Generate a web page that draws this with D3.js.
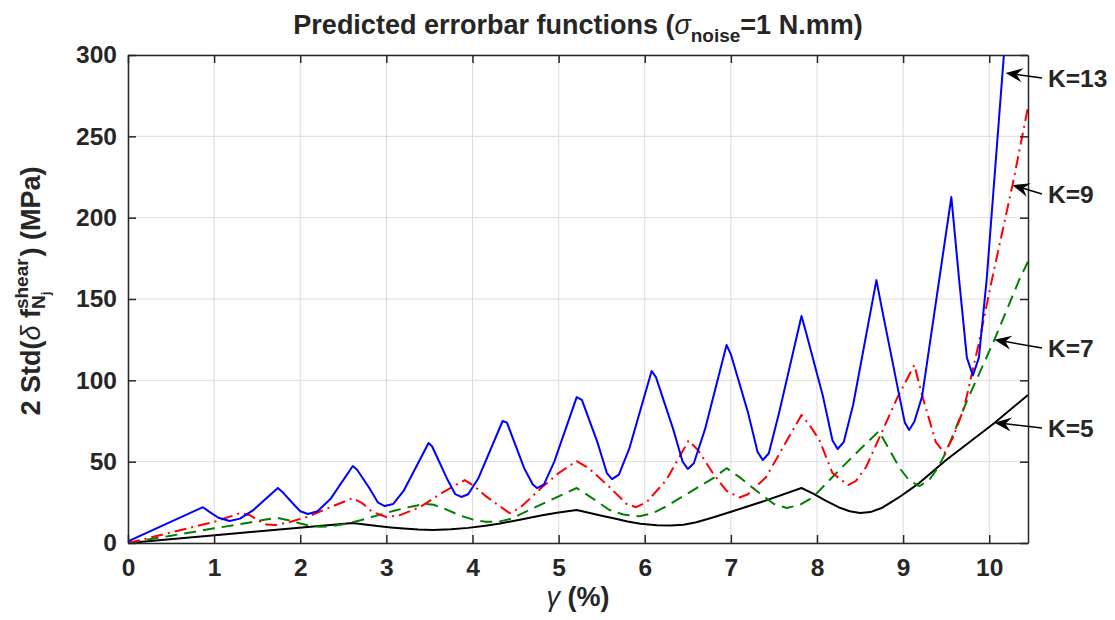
<!DOCTYPE html>
<html>
<head>
<meta charset="utf-8">
<script src="https://cdn.jsdelivr.net/npm/d3@7"></script>
<style>
body { margin: 0; background: #fff; }
text { font-family: "Liberation Sans", Arial, sans-serif; font-weight: bold; fill: #262626; }
</style>
</head>
<body>
<div id="chart-area"></div>
<script>
// values: shear strain (%) and 2*std of the error (MPa)
var gammaK13 = [0, 0.87, 0.95, 1.05, 1.18, 1.3, 1.45, 1.74, 1.80, 1.92, 2.0, 2.09, 2.2, 2.35, 2.61, 2.66, 2.8, 2.9, 2.98, 3.08, 3.2, 3.49, 3.53, 3.7, 3.8, 3.87, 3.95, 4.07, 4.35, 4.40, 4.6, 4.70, 4.75, 4.83, 4.95, 5.21, 5.27, 5.45, 5.56, 5.62, 5.70, 5.82, 6.08, 6.13, 6.33, 6.44, 6.50, 6.57, 6.7, 6.95, 7.0, 7.2, 7.31, 7.37, 7.44, 7.56, 7.82, 7.87, 8.07, 8.18, 8.24, 8.31, 8.42, 8.69, 8.75, 8.95, 9.02, 9.07, 9.13, 9.22, 9.56, 9.65, 9.74, 9.81, 9.88, 9.97, 10.17, 10.3]
var errK13 = [1, 22, 19, 15.5, 13.5, 15, 20, 33.8, 31, 24, 19.5, 17.8, 19.5, 27, 47.3, 45, 34, 25, 22.7, 24, 32, 61.5, 59.5, 40, 30, 28.3, 30, 40, 75, 74, 46, 36, 33.8, 36, 50, 89.7, 88, 62, 43, 39.3, 42, 58, 105.7, 102, 70, 50, 45.5, 49, 70, 121.7, 116, 80, 56, 51, 55, 80, 139.5, 130, 90, 63, 57.8, 62, 85, 161.6, 145, 92, 74, 69.5, 74.5, 90, 212.7, 162, 114, 103, 114, 162, 300, 380]

var gammaK9 = [0, 0.5, 1.0, 1.2, 1.30, 1.42, 1.52, 1.61, 1.71, 1.85, 2.08, 2.35, 2.61, 2.72, 2.84, 3.0, 3.15, 3.39, 3.65, 3.91, 4.02, 4.15, 4.28, 4.43, 4.55, 4.81, 5.0, 5.21, 5.35, 5.59, 5.79, 5.9, 6.02, 6.25, 6.51, 6.62, 6.79, 6.95, 7.1, 7.2, 7.41, 7.82, 7.92, 8.03, 8.18, 8.36, 8.45, 8.57, 8.93, 9.13, 9.22, 9.38, 9.48, 9.58, 9.71, 9.88, 10.03, 10.27, 10.45]
var errK9 = [0, 6.5, 13, 16.5, 18.4, 17, 13.5, 11.3, 11, 12.5, 16, 22, 27.6, 24.5, 19, 16, 17, 22, 31, 38.7, 35, 29, 24, 18.4, 21.5, 34.4, 43, 50.4, 46, 34.4, 24, 22, 25, 38.7, 63, 57, 43, 32, 28, 30, 40.6, 78.7, 72, 63, 43, 35.6, 38, 46.7, 89, 109.4, 91, 62, 55.3, 65, 83.6, 123, 161.6, 220, 268]

var gammaK7 = [0, 0.5, 1.0, 1.4, 1.6, 1.73, 1.85, 2.0, 2.12, 2.23, 2.35, 2.5, 2.7, 2.9, 3.1, 3.3, 3.45, 3.55, 3.7, 3.85, 4.0, 4.15, 4.3, 4.45, 4.66, 5.21, 5.35, 5.59, 5.75, 5.94, 6.1, 6.25, 6.5, 6.8, 6.95, 7.1, 7.33, 7.5, 7.65, 7.8, 7.95, 8.18, 8.45, 8.72, 8.96, 9.07, 9.19, 9.3, 9.4, 9.5, 9.73, 10.06, 10.35, 10.45]
var errK7 = [0, 4.5, 9, 12.5, 14.5, 15.5, 14.2, 12, 10.5, 10, 10.3, 11.5, 14, 17, 20, 22.5, 24, 23.5, 20.5, 17, 14.5, 13, 13, 15, 20.3, 33.8, 29, 20.3, 17.5, 16.4, 18.5, 22.5, 30.5, 40, 46, 40.5, 30.7, 24, 21.5, 23.5, 28, 40.6, 55, 68.8, 46, 38.5, 35, 38.5, 46, 56, 86, 125, 162, 173]

var gammaK5 = [0, 1.3, 2.61, 2.75, 2.9, 3.05, 3.2, 3.37, 3.54, 3.75, 3.95, 4.15, 4.32, 4.55, 4.81, 5.0, 5.21, 5.35, 5.5, 5.65, 5.8, 5.95, 6.14, 6.3, 6.45, 6.6, 6.8, 7.02, 7.41, 7.82, 7.95, 8.1, 8.25, 8.38, 8.5, 8.62, 8.75, 8.95, 9.19, 9.5, 10.06, 10.45]
var errK5 = [0, 6.2, 12.3, 11.4, 10.4, 9.6, 8.9, 8.3, 8.0, 8.4, 9.3, 10.6, 12.0, 14.3, 17.0, 18.8, 20.3, 18.6, 16.8, 15.0, 13.2, 11.8, 10.9, 10.7, 11.2, 12.8, 15.8, 19.5, 26.2, 33.8, 30.5, 26, 22, 19.5, 18.5, 19, 21.5, 28, 37, 51, 73.8, 91]

// annotation arrows: label, arrow tip (gamma, MPa), label level (MPa)
var annLabels = ['K=13', 'K=9', 'K=7', 'K=5']
var annTipGamma = [10.19, 10.27, 10.06, 10.06]
var annTipVal = [289, 220, 125, 74]
var annLabelVal = [285.8, 214.5, 119.9, 70.7]

var xTicks = [0, 1, 2, 3, 4, 5, 6, 7, 8, 9, 10]
var yTicks = [0, 50, 100, 150, 200, 250, 300]

//SVG with margins
var W = 1115, H = 620
var margin = {left: 128, right: 87, top: 55, bottom: 77}
var width = W - margin.left - margin.right
var height = H - margin.top - margin.bottom

var svg = d3.select('#chart-area').append('svg')
	.attr('width', W)
	.attr('height', H)

var group = svg.append('g')
	.attr('transform', 'translate(' + margin.left + ',' + margin.top + ')')

var xScale = d3.scaleLinear().domain([0, 10.45]).range([0, width])
var yScale = d3.scaleLinear().domain([0, 300]).range([height, 0])

// grid
group.append('g').selectAll('line').data(xTicks).enter().append('line')
	.attr('x1', d => xScale(d)).attr('x2', d => xScale(d))
	.attr('y1', 0).attr('y2', height)
	.attr('stroke', '#dcdcdc').attr('stroke-width', 1)
group.append('g').selectAll('line').data(yTicks).enter().append('line')
	.attr('x1', 0).attr('x2', width)
	.attr('y1', d => yScale(d)).attr('y2', d => yScale(d))
	.attr('stroke', '#dcdcdc').attr('stroke-width', 1)

// curves, clipped to the axes box
group.append('clipPath').attr('id', 'clip')
	.append('rect').attr('width', width).attr('height', height)

var series = [
	{g: gammaK5, v: errK5, color: '#000000', dash: null},
	{g: gammaK7, v: errK7, color: '#008000', dash: '12,7'},
	{g: gammaK9, v: errK9, color: '#ff0000', dash: '12,5,2,5'},
	{g: gammaK13, v: errK13, color: '#0000ff', dash: null}
]

var line = d3.line()
	.x(d => xScale(d[0]))
	.y(d => yScale(d[1]))

group.append('g').attr('clip-path', 'url(#clip)')
	.selectAll('path').data(series).enter().append('path')
	.attr('d', d => line(d3.zip(d.g, d.v)))
	.attr('fill', 'none')
	.attr('stroke', d => d.color)
	.attr('stroke-width', 2)
	.attr('stroke-dasharray', d => d.dash)
	.attr('stroke-linejoin', 'round')

// axes (box with inward ticks)
var xAxis = d3.axisBottom(xScale).tickValues(xTicks).tickSizeInner(-8).tickSizeOuter(0).tickPadding(15.5)
var yAxis = d3.axisLeft(yScale).tickValues(yTicks).tickSizeInner(-8).tickSizeOuter(0).tickPadding(11)
var xTop = d3.axisTop(xScale).tickValues(xTicks).tickSizeInner(-8).tickSizeOuter(0).tickFormat('')
var yRight = d3.axisRight(yScale).tickValues(yTicks).tickSizeInner(-8).tickSizeOuter(0).tickFormat('')

var axes = [
	group.append('g').attr('transform', 'translate(0,' + height + ')').call(xAxis),
	group.append('g').call(yAxis),
	group.append('g').call(xTop),
	group.append('g').attr('transform', 'translate(' + width + ',0)').call(yRight)
]
axes.forEach(function(a){
	a.select('.domain').attr('stroke', '#262626').attr('stroke-width', 1.5)
	a.selectAll('.tick line').attr('stroke', '#262626').attr('stroke-width', 1.5)
	a.selectAll('.tick text').attr('font-size', '24.5px').attr('fill', '#262626')
		.attr('font-family', '"Liberation Sans", Arial, sans-serif').attr('font-weight', 'bold')
})

// title
var title = svg.append('text')
	.attr('x', margin.left + width / 2)
	.attr('y', 34)
	.attr('text-anchor', 'middle')
	.attr('font-size', '27px')
title.append('tspan').text('Predicted errorbar functions (')
title.append('tspan').attr('font-style', 'italic').attr('font-weight', 'normal').text('σ')
title.append('tspan').attr('font-size', '19px').attr('dy', 8).text('noise')
title.append('tspan').attr('dy', -8).text('=1 N.mm)')

// x label
var xlab = svg.append('text')
	.attr('x', margin.left + width / 2)
	.attr('y', 606)
	.attr('text-anchor', 'middle')
	.attr('font-size', '27px')
xlab.append('tspan').attr('font-style', 'italic').attr('font-weight', 'normal').text('γ')
xlab.append('tspan').text(' (%)')

// y label with stacked super/subscripts
var ylab = svg.append('text')
	.attr('transform', 'translate(40,' + (margin.top + height / 2 - 8) + ') rotate(-90)')
	.attr('text-anchor', 'middle')
	.attr('font-size', '27px')
ylab.append('tspan').text('2 Std(')
ylab.append('tspan').attr('font-style', 'italic').attr('font-weight', 'normal').text('δ')
ylab.append('tspan').text(' f')
var sup = ylab.append('tspan').attr('font-size', '19px').attr('dy', -12).text('shear')
var subN = ylab.append('tspan').attr('font-size', '19px').attr('dy', 17).text('N')
var subJ = ylab.append('tspan').attr('font-size', '13px').attr('dy', 5).text('j')
var rest = ylab.append('tspan').attr('dy', -10).text(') (MPa)')
var wSup = sup.node().getComputedTextLength()
var wN = subN.node().getComputedTextLength()
var wJ = subJ.node().getComputedTextLength()
subN.attr('dx', -wSup)
rest.attr('dx', wSup - wN - wJ + 2)

// arrows with labels
var ann = group.append('g')
annLabels.forEach(function(lab, i){
	var tx = xScale(annTipGamma[i]), ty = yScale(annTipVal[i])
	var sx = width + 14, sy = yScale(annLabelVal[i])
	var ang = Math.atan2(sy - ty, sx - tx)
	var ux = Math.cos(ang), uy = Math.sin(ang)
	var hl = 17, hw = 7, notch = 11
	ann.append('line')
		.attr('x1', sx).attr('y1', sy)
		.attr('x2', tx + ux * notch).attr('y2', ty + uy * notch)
		.attr('stroke', 'black').attr('stroke-width', 1.5)
	var pts = [
		[tx, ty],
		[tx + ux * hl - uy * hw, ty + uy * hl + ux * hw],
		[tx + ux * notch, ty + uy * notch],
		[tx + ux * hl + uy * hw, ty + uy * hl - ux * hw]
	]
	ann.append('polygon')
		.attr('points', pts.map(p => p.join(',')).join(' '))
		.attr('fill', 'black')
	ann.append('text')
		.attr('x', width + 20)
		.attr('y', sy + 9)
		.attr('font-size', '24.5px')
		.attr('fill', 'black')
		.text(lab)
})
</script>
</body>
</html>
